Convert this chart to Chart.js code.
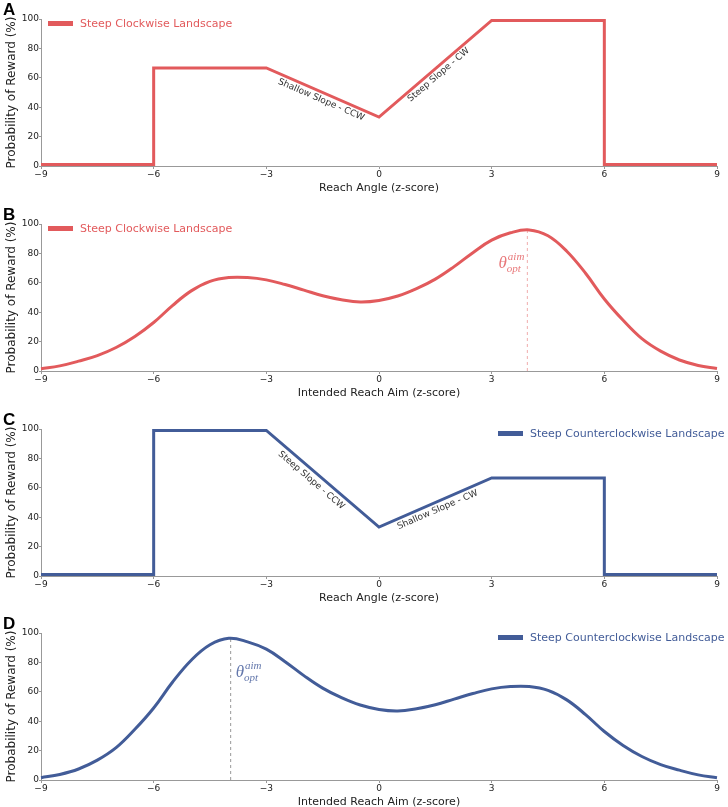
<!DOCTYPE html>
<html>
<head>
<meta charset="utf-8">
<script src="https://cdn.jsdelivr.net/npm/chart.js@4.4.1/dist/chart.umd.min.js"></script>
<style>
  body { margin: 0; background: #fff; width: 728px; height: 807px; position: relative; overflow: hidden; }
  .panel { position: absolute; left: 0; width: 728px; height: 196px; }
</style>
</head>
<body>
<div class="panel" style="top:0px"><canvas id="panelA"></canvas></div>
<div class="panel" style="top:205px"><canvas id="panelB"></canvas></div>
<div class="panel" style="top:410px"><canvas id="panelC"></canvas></div>
<div class="panel" style="top:614px"><canvas id="panelD"></canvas></div>
<script>
// step landscapes (reach angle, z-score)
const stepX = [-9, -6, -6, -3, 0, 3, 6, 6, 9];
const cwLandscape = [1, 1, 66.7, 66.7, 33.3, 99, 99, 1, 1];
const ccwLandscape = [1, 1, 99, 99, 33.3, 66.7, 66.7, 1, 1];

// smoothed reward vs intended aim
const aimX = [-9, -8.5, -8, -7.5, -7, -6.5, -6, -5.5, -5, -4.5, -4, -3.5, -3, -2.5, -2, -1.5, -1, -0.5, 0,
              0.5, 1, 1.5, 2, 2.5, 3, 3.5, 4, 4.5, 5, 5.5, 6, 6.5, 7, 7.5, 8, 8.5, 9];
const cwAim = [1.6, 3.5, 6.7, 10.5, 16, 23.5, 33, 44.5, 54.5, 61, 63.6, 63.6, 62, 58.8, 55, 51.2, 48.5, 47, 48,
               51, 56, 62.5, 71, 80.5, 89, 94, 96, 92, 81.5, 66.5, 49, 34.5, 22, 13.5, 7.5, 3.8, 1.7];
const ccwAim = [1.6, 3.8, 7.5, 13.5, 22, 34.5, 49, 66.5, 81.5, 92, 96.4, 94, 89, 80.5, 71, 62.5, 56, 51, 48,
                47, 48.5, 51.2, 55, 58.8, 62, 63.6, 63.6, 61, 54.5, 44.5, 33, 23.5, 16, 10.5, 6.7, 3.5, 1.6];
const optAimCW = 3.95;
const optAimCCW = -3.95;
const optPeakCW = 96;
const optPeakCCW = 96.4;

const xTicks = [-9, -6, -3, 0, 3, 6, 9];
const yTicks = [0, 20, 40, 60, 80, 100];

const red = 'rgb(226, 90, 92)';
const blue = 'rgb(66, 92, 152)';
const family = '"DejaVu Sans", sans-serif';

function toPoints(xs, ys) {
    return xs.map((x, i) => ({ x: x, y: ys[i] }));
}

const panelPlugin = {
    id: 'panelDeco',
    beforeDatasetsDraw(chart) {
        const cfg = chart.options.plugins.panelDeco;
        if (!cfg.opt) return;
        const ctx = chart.ctx;
        const xs = chart.scales.x, ys = chart.scales.y;
        const px = xs.getPixelForValue(cfg.opt.x);
        ctx.save();
        ctx.strokeStyle = cfg.opt.lineColor;
        ctx.lineWidth = 1;
        ctx.setLineDash([3, 3]);
        ctx.beginPath();
        ctx.moveTo(px, ys.getPixelForValue(0));
        ctx.lineTo(px, ys.getPixelForValue(cfg.opt.peak));
        ctx.stroke();
        ctx.restore();
    },
    afterDraw(chart) {
        const cfg = chart.options.plugins.panelDeco;
        const ctx = chart.ctx;
        const xs = chart.scales.x, ys = chart.scales.y;
        ctx.save();

        // panel letter
        ctx.fillStyle = '#000';
        ctx.font = 'bold 17px "Liberation Sans", Arial, sans-serif';
        ctx.textBaseline = 'alphabetic';
        ctx.textAlign = 'left';
        ctx.fillText(cfg.letter, 3, 15);

        // legend
        ctx.fillStyle = cfg.color;
        ctx.fillRect(cfg.legendX, 21, 25, 5);
        ctx.font = '11px ' + family;
        ctx.textBaseline = 'middle';
        ctx.fillText(cfg.legend, cfg.legendX + 32, 24);

        // slope labels
        (cfg.slopes || []).forEach(s => {
            const x1 = xs.getPixelForValue(s.from[0]), y1 = ys.getPixelForValue(s.from[1]);
            const x2 = xs.getPixelForValue(s.to[0]), y2 = ys.getPixelForValue(s.to[1]);
            const ang = Math.atan2(y2 - y1, x2 - x1);
            ctx.save();
            ctx.translate(xs.getPixelForValue(s.at[0]), ys.getPixelForValue(s.at[1]));
            ctx.rotate(ang);
            ctx.font = '9px ' + family;
            ctx.fillStyle = '#333';
            ctx.textAlign = 'center';
            ctx.textBaseline = 'middle';
            ctx.fillText(s.text, 0, 0);
            ctx.restore();
        });

        // theta_opt^aim
        if (cfg.opt) {
            const px = xs.getPixelForValue(cfg.opt.x);
            const py = ys.getPixelForValue(cfg.opt.textY);
            ctx.fillStyle = cfg.opt.textColor;
            ctx.textBaseline = 'alphabetic';
            ctx.textAlign = 'left';
            ctx.font = 'italic 17px "Liberation Serif", serif';
            const wT = ctx.measureText('\u03B8').width;
            ctx.font = 'italic 11px "Liberation Serif", serif';
            const wS = Math.max(ctx.measureText('aim').width, ctx.measureText('opt').width);
            const left = cfg.opt.side === 'left' ? px - 4 - wT - wS : px + 5;
            ctx.font = 'italic 17px "Liberation Serif", serif';
            ctx.fillText('\u03B8', left, py);
            ctx.font = 'italic 11px "Liberation Serif", serif';
            ctx.fillText('aim', left + wT + 1, py - 8);
            ctx.fillText('opt', left + wT, py + 4);
        }
        ctx.restore();
    }
};

function makePanel(id, xs, ys, color, xTitle, smooth, deco) {
    const minus = v => String(v).replace('-', '\u2212');
    new Chart(document.getElementById(id), {
        type: 'line',
        data: {
            datasets: [{
                data: toPoints(xs, ys),
                borderColor: color,
                borderWidth: 3,
                pointRadius: 0,
                fill: false,
                tension: smooth ? 0.4 : 0,
                clip: false
            }]
        },
        options: {
            responsive: true,
            maintainAspectRatio: false,
            animation: false,
            layout: { padding: { top: 19, right: 11, left: 5, bottom: 0 } },
            plugins: { legend: { display: false }, tooltip: { enabled: false }, panelDeco: deco },
            scales: {
                x: {
                    type: 'linear', min: -9, max: 9,
                    afterBuildTicks: s => { s.ticks = xTicks.map(v => ({ value: v })); },
                    afterFit: s => { s.height = 30; },
                    ticks: { callback: minus, font: { size: 9, family: family }, color: '#222', padding: 0, maxRotation: 0, autoSkip: false },
                    grid: { drawOnChartArea: false, drawTicks: true, tickLength: 3, color: '#999' },
                    border: { color: '#999', width: 1 },
                    title: { display: true, text: xTitle, font: { size: 11, family: family }, color: '#222', padding: { top: 1, bottom: 1 } }
                },
                y: {
                    min: 0, max: 100,
                    afterBuildTicks: s => { s.ticks = yTicks.map(v => ({ value: v })); },
                    afterFit: s => { s.width = 36; },
                    ticks: { font: { size: 9, family: family }, color: '#222', padding: 0 },
                    grid: { drawOnChartArea: false, drawTicks: true, tickLength: 2, color: '#999' },
                    border: { color: '#999', width: 1 },
                    title: { display: true, text: 'Probability of Reward (%)', font: { size: 12, family: family }, color: '#222', padding: { top: 0, bottom: 0 } }
                }
            }
        },
        plugins: [panelPlugin]
    });
}

makePanel('panelA', stepX, cwLandscape, red, 'Reach Angle (z-score)', false, {
    letter: 'A', color: red, legend: 'Steep Clockwise Landscape', legendX: 48,
    slopes: [
        { text: 'Shallow Slope - CCW', at: [-1.54, 45], from: [-3, 66.7], to: [0, 33.3] },
        { text: 'Steep Slope - CW', at: [1.59, 62], from: [0, 33.3], to: [3, 99] }
    ]
});
makePanel('panelB', aimX, cwAim, red, 'Intended Reach Aim (z-score)', true, {
    letter: 'B', color: red, legend: 'Steep Clockwise Landscape', legendX: 48,
    opt: { x: optAimCW, peak: optPeakCW, textY: 70, side: 'left', lineColor: 'rgba(226, 90, 92, 0.5)', textColor: 'rgb(232, 120, 122)' }
});
makePanel('panelC', stepX, ccwLandscape, blue, 'Reach Angle (z-score)', false, {
    letter: 'C', color: blue, legend: 'Steep Counterclockwise Landscape', legendX: 498,
    slopes: [
        { text: 'Steep Slope - CCW', at: [-1.8, 65], from: [-3, 99], to: [0, 33.3] },
        { text: 'Shallow Slope - CW', at: [1.56, 45], from: [0, 33.3], to: [3, 66.7] }
    ]
});
makePanel('panelD', aimX, ccwAim, blue, 'Intended Reach Aim (z-score)', true, {
    letter: 'D', color: blue, legend: 'Steep Counterclockwise Landscape', legendX: 498,
    opt: { x: optAimCCW, peak: optPeakCCW, textY: 70, side: 'right', lineColor: '#999', textColor: 'rgb(100, 120, 172)' }
});
</script>
</body>
</html>
